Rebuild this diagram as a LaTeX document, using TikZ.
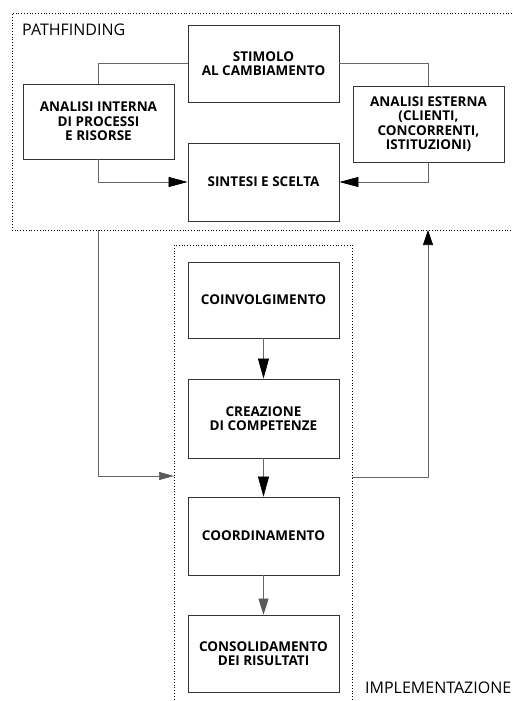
\documentclass[tikz,border=0pt]{standalone}
\usepackage{fontspec}
\setmainfont{Open Sans}
\usetikzlibrary{arrows.meta,calc}
\begin{document}
\begin{tikzpicture}[x=1pt,y=-1pt,
  stepbox/.style={draw=black!80,line width=0.8pt,minimum width=151pt,align=center,
    font=\fontsize{13.5}{14.5}\selectfont\bfseries,inner sep=0pt},
  conn/.style={draw=black!60,line width=0.7pt},
  bigtip/.style={-{Triangle[length=19pt,width=10pt,fill=black,color=black]}},
  frame/.style={draw=black,line width=0.8pt,dotted},
  lbl/.style={font=\fontsize{16}{18}\selectfont,anchor=west,inner sep=0pt}]
\useasboundingbox (0,0) rectangle (512,701);
% pathfinding frame
\coordinate (pfTR) at (512,13);
\coordinate (pfTL) at (12,13);
\coordinate (pfBL) at (12,230);
\coordinate (pfBR) at (512,230);
\draw[frame] (pfTR) -- (pfTL) -- (pfBL) -- (pfBR);
\node[lbl] (pftitle) at (22,30) {PATHFINDING};
% boxes
\node[stepbox,minimum height=77pt] (stim) at (263.5,63.5) {STIMOLO\\AL CAMBIAMENTO};
\node[stepbox,minimum height=75pt] (ai) at (98.5,121.5) {ANALISI INTERNA\\DI PROCESSI\\E RISORSE};
\node[stepbox,minimum height=76pt] (ae) at (428.5,124) {ANALISI ESTERNA\\(CLIENTI,\\CONCORRENTI,\\ISTITUZIONI)};
\node[stepbox,minimum height=78pt] (sint) at (263.5,182) {SINTESI E SCELTA};
\draw[conn] (stim.west) -| (ai.north);
\draw[conn] (stim.east) -| (ae.north);
\draw[conn,bigtip] (ai.south) |- (sint.west);
\draw[conn,bigtip] (ae.south) |- (sint.east);
% implementation frame
\coordinate (imBL) at (174,705);
\coordinate (imTL) at (174,245);
\coordinate (imTR) at (352,245);
\coordinate (imBR) at (352,705);
\draw[frame] (imBL) -- (imTL) -- (imTR) -- (imBR);
\node[lbl] (imtitle) at (365,688) {IMPLEMENTAZIONE};
\node[stepbox,minimum height=76pt] (coin) at (263.5,300) {COINVOLGIMENTO};
\node[stepbox,minimum height=79pt] (crea) at (263.5,418.5) {CREAZIONE\\DI COMPETENZE};
\node[stepbox,minimum height=78pt] (coord) at (263.5,536) {COORDINAMENTO};
\node[stepbox,minimum height=77pt] (cons) at (263.5,653.5) {CONSOLIDAMENTO\\DEI RISULTATI};
\draw[conn,-{Triangle[length=20pt,width=11pt,fill=black,color=black]}] (coin) -- (crea);
\draw[conn,-{Triangle[length=20pt,width=11pt,fill=black,color=black]}] (crea) -- (coord);
\draw[conn,-{Triangle[length=16pt,width=10pt,fill=black!65,color=black!65]}] (coord) -- (cons);
% feedback connectors
\coordinate (pfOut) at (98,230);
\coordinate (imIn) at (174,476);
\coordinate (imOut) at (352,477);
\coordinate (pfIn) at (428,230);
\draw[conn,-{Triangle[length=15pt,width=8pt,fill=black!65,color=black!65]}] (pfOut) |- (imIn);
\draw[conn,-{Triangle[length=15pt,width=10pt,fill=black,color=black]}] (imOut) -| (pfIn);
\end{tikzpicture}
\end{document}
